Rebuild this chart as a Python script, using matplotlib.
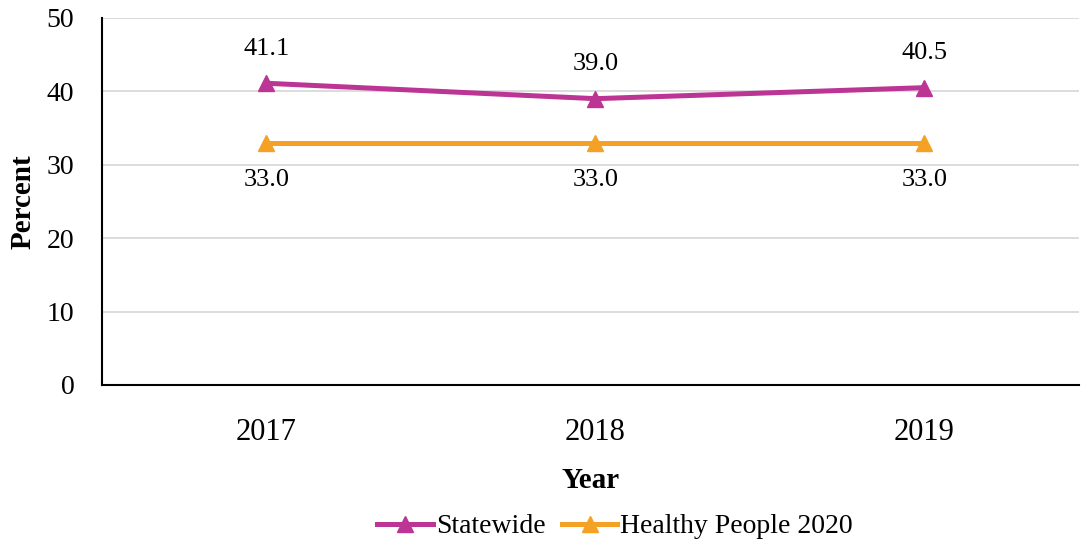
import matplotlib

matplotlib.use("Agg")
import matplotlib.pyplot as plt

years = ["2017", "2018", "2019"]
statewide = [41.1, 39.0, 40.5]
healthy_people = [33.0, 33.0, 33.0]

plt.rcParams["font.family"] = ["Liberation Serif", "DejaVu Serif"]

fig = plt.figure(figsize=(10.81, 5.43), dpi=100)
ax = fig.add_axes([0.0944, 0.291, 0.9036, 0.676])

x = list(range(len(years)))
ax.plot(x, statewide, color="#BC3494", lw=3.6, marker="^", ms=12, label="Statewide")
ax.plot(x, healthy_people, color="#F4A125", lw=3.6, marker="^", ms=12, label="Healthy People 2020")

for xi, v in zip(x, statewide):
    ax.annotate(f"{v:.1f}", (xi, v), xytext=(0, 25), textcoords="offset points",
                ha="center", va="center", fontsize=19)
for xi, v in zip(x, healthy_people):
    ax.annotate(f"{v:.1f}", (xi, v), xytext=(0, -27), textcoords="offset points",
                ha="center", va="center", fontsize=19)

ax.set_ylim(0, 50)
ax.set_yticks(range(0, 51, 10))
ax.set_xlim(-0.5, 2.47)
ax.set_xticks(x)
ax.set_xticklabels(years, fontsize=22)
ax.tick_params(axis="y", labelsize=20, length=0, pad=20)
ax.tick_params(axis="x", length=0, pad=24)
ax.grid(axis="y", color="#D9D9D9", lw=1.3)
ax.set_axisbelow(True)
for side in ["top", "right"]:
    ax.spines[side].set_visible(False)
ax.spines["left"].set_linewidth(1.5)
ax.spines["bottom"].set_linewidth(1.5)

ax.set_xlabel("Year", fontsize=21, fontweight="bold", labelpad=14)
ax.set_ylabel("Percent", fontsize=21, fontweight="bold", labelpad=7)

fig.legend(*ax.get_legend_handles_labels(), loc="center", bbox_to_anchor=(0.569, 0.03),
           ncol=2, frameon=False, fontsize=20, handlelength=2.0, handletextpad=0.1,
           columnspacing=0.6, borderaxespad=0)

fig.savefig("out.png", dpi=100)
